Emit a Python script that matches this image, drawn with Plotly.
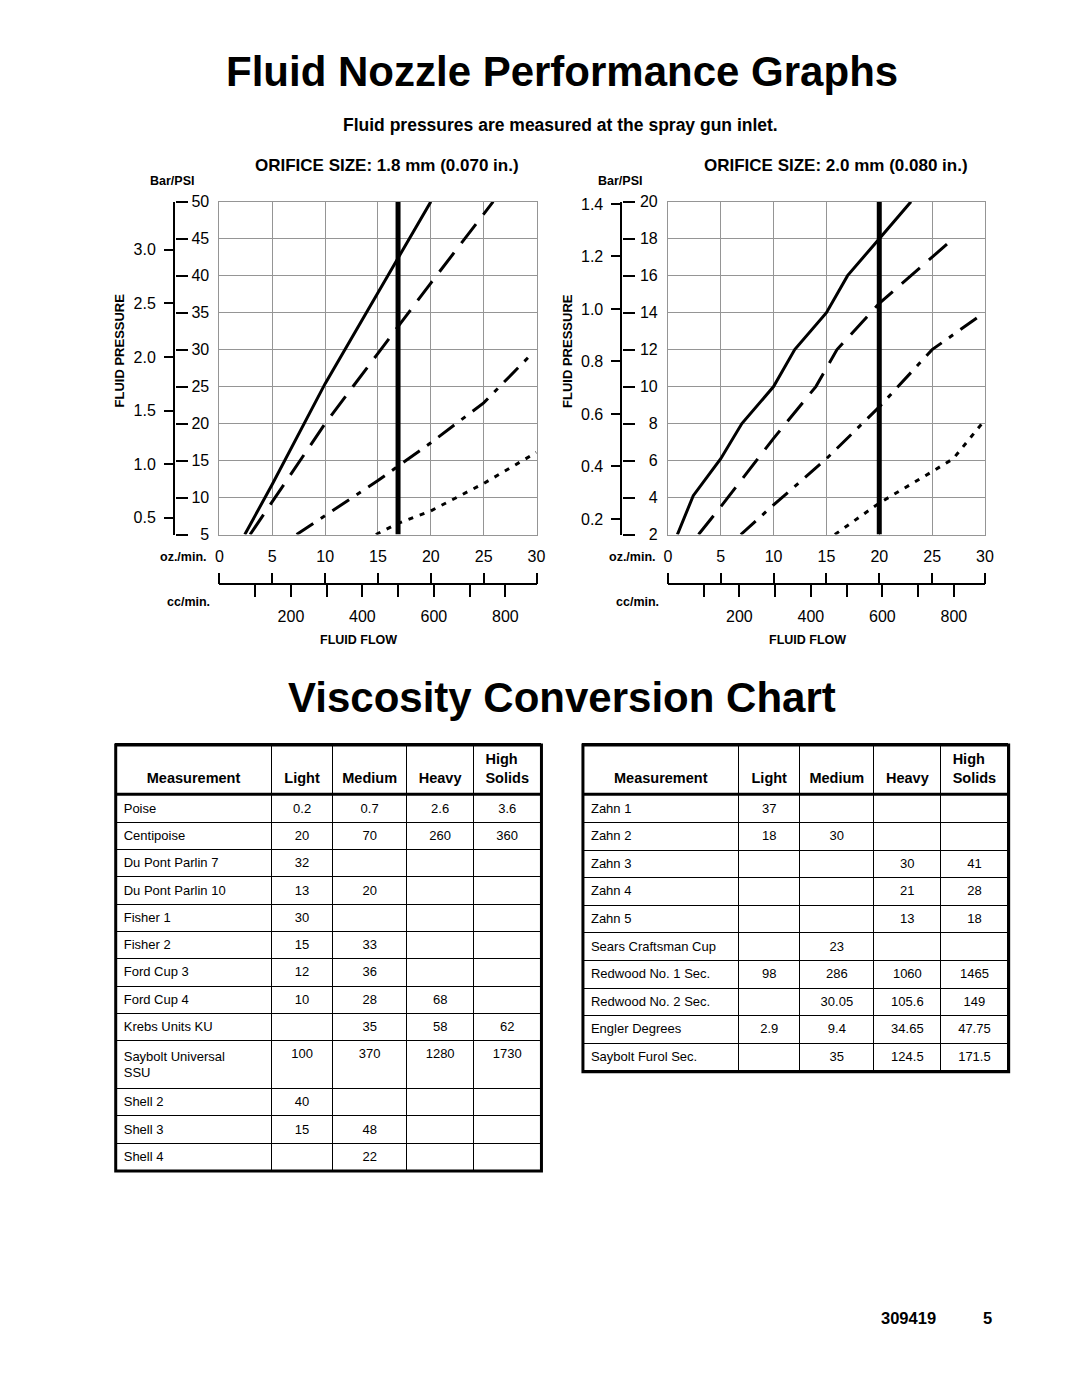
import plotly.graph_objects as go

# page is 1080x1397; the browser body keeps its 8px margin, so the figure is
# sized to fit inside it and every position below is given in page pixels
PAGE_W, PAGE_H = 1080, 1397
OFF = 8
W, H = PAGE_W - 2 * OFF, PAGE_H - 2 * OFF - 4
FONT = "Liberation Sans, Arial, Helvetica, sans-serif"
GRID = "#959595"

# ---------- nozzle graphs: x = fluid flow (oz/min), y = fluid pressure (psi)
OZ_TICKS = [0, 5, 10, 15, 20, 25, 30]
CC_TICKS = [100, 200, 300, 400, 500, 600, 700, 800]
CC_LABELS = ["", "200", "", "400", "", "600", "", "800"]
CC_PER_OZ = 29.57

# orifice 1.8 mm
A_PSI_TICKS = [5, 10, 15, 20, 25, 30, 35, 40, 45, 50]
A_BAR_TICKS = [0.5, 1.0, 1.5, 2.0, 2.5, 3.0]
A_PSI_PER_BAR = 14.5
A_SOLID_X = [2.4, 5, 10, 16.9, 20]
A_SOLID_Y = [5, 11.8, 25.4, 42.3, 50]
A_DASH_X = [2.9, 5, 10, 15, 20, 25.9]
A_DASH_Y = [5, 9.4, 20, 29.5, 39, 50]
A_DASHDOT_X = [7.3, 10, 15, 20, 25, 29.6]
A_DASHDOT_Y = [5, 7.6, 12.3, 17.4, 22.8, 29.5]
A_DOT_X = [14.8, 16.9, 20, 25, 30]
A_DOT_Y = [5, 6.5, 8.2, 11.9, 16.1]
A_MARK = 16.9

# orifice 2.0 mm
B_PSI_TICKS = [2, 4, 6, 8, 10, 12, 14, 16, 18, 20]
B_BAR_TICKS = [0.2, 0.4, 0.6, 0.8, 1.0, 1.2, 1.4]
B_PSI_PER_BAR = 14.2
B_SOLID_X = [0.9, 2.4, 5, 7, 10, 12, 15, 17, 20, 23]
B_SOLID_Y = [2, 4.1, 6.1, 8, 10, 12, 14, 16, 18, 20]
B_DASH_X = [2.9, 5, 10, 14, 16, 20, 25, 26.8]
B_DASH_Y = [2, 3.5, 7.2, 10, 12, 14.5, 17, 17.9]
B_DASHDOT_X = [6.9, 10, 15, 20, 25, 29.7]
B_DASHDOT_Y = [2, 3.6, 6.1, 8.9, 12, 13.9]
B_DOT_X = [15.8, 20, 25, 27, 30]
B_DOT_Y = [2, 3.7, 5.4, 6.1, 8.2]
B_MARK = 20

# ---------- viscosity tables
HEADERS = ["Measurement", "Light", "Medium", "Heavy", "High<br>Solids"]

L_MEAS = ["Poise", "Centipoise", "Du Pont Parlin 7", "Du Pont Parlin 10", "Fisher 1",
          "Fisher 2", "Ford Cup 3", "Ford Cup 4", "Krebs Units KU",
          "Saybolt Universal<br>SSU", "Shell 2", "Shell 3", "Shell 4"]
L_LIGHT = ["0.2", "20", "32", "13", "30", "15", "12", "10", "", "100", "40", "15", ""]
L_MEDIUM = ["0.7", "70", "", "20", "", "33", "36", "28", "35", "370", "", "48", "22"]
L_HEAVY = ["2.6", "260", "", "", "", "", "", "68", "58", "1280", "", "", ""]
L_HIGH = ["3.6", "360", "", "", "", "", "", "", "62", "1730", "", "", ""]

R_MEAS = ["Zahn 1", "Zahn 2", "Zahn 3", "Zahn 4", "Zahn 5", "Sears Craftsman Cup",
          "Redwood No. 1 Sec.", "Redwood No. 2 Sec.", "Engler Degrees", "Saybolt Furol Sec."]
R_LIGHT = ["37", "18", "", "", "", "", "98", "", "2.9", ""]
R_MEDIUM = ["", "30", "", "", "", "23", "286", "30.05", "9.4", "35"]
R_HEAVY = ["", "", "30", "21", "13", "", "1060", "105.6", "34.65", "124.5"]
R_HIGH = ["", "", "41", "28", "18", "", "1465", "149", "47.75", "171.5"]

COL_WIDTHS = [158, 62, 75, 68, 68]
HEADER_BOTTOM = 796
HEADER_H = 51.5
# a two-line 13px cell grows to about (1.3 + 1.117) * 13 + 2 * 8 px in plotly tables
TALL_ROW_H = 47.4
# rows come out roughly half a pixel taller than asked for
ROW_EXTRA = 0.5


def px(x):
    return (x - OFF) / W


def py(y):
    return 1 - (y - OFF) / H


fig = go.Figure()


def add_graph(n, left, bar_x, psi_ticks, bar_ticks, psi_per_bar, curves, mark):
    # axis ids: main x/y, free psi tick axis, free bar axis, cc axis, oz ticks on cc line
    xm, ym = 3 * n + 1, 3 * n + 1
    ypsi, ybar = ym + 1, ym + 2
    xcc, xoz = xm + 1, xm + 2

    def xn(i):
        return "x" if i == 1 else "x%d" % i

    def yn(i):
        return "y" if i == 1 else "y%d" % i

    def xl(i):
        return "xaxis" if i == 1 else "xaxis%d" % i

    def yl(i):
        return "yaxis" if i == 1 else "yaxis%d" % i

    x_dom = [px(left), px(left + 321)]
    y_dom = [py(533), py(196)]
    y_rng = [psi_ticks[0], psi_ticks[-1]]
    tick_font = dict(family=FONT, size=16, color="black")

    dashes = ["solid", "24px,12px", "20px,9px,5px,9px", "5px,7px"]
    for (cx, cy), d in zip(curves, dashes):
        fig.add_trace(go.Scatter(x=cx, y=cy, mode="lines", xaxis=xn(xm), yaxis=yn(ym),
                                 line=dict(color="black", width=3, dash=d),
                                 hoverinfo="skip", showlegend=False))
    # thick vertical reference bar
    fig.add_trace(go.Scatter(x=[mark, mark], y=y_rng, mode="lines", xaxis=xn(xm), yaxis=yn(ym),
                             line=dict(color="black", width=5), cliponaxis=False,
                             hoverinfo="skip", showlegend=False))
    # empty traces so the extra axes get drawn
    for xa, ya in [(xm, ypsi), (xm, ybar), (xcc, ym), (xoz, ym)]:
        fig.add_trace(go.Scatter(x=[None], y=[None], xaxis=xn(xa), yaxis=yn(ya),
                                 hoverinfo="skip", showlegend=False))

    fig.update_layout(**{
        xl(xm): dict(domain=x_dom, range=[0, 30], anchor=yn(ym), tickvals=OZ_TICKS,
                     showgrid=True, gridcolor=GRID, gridwidth=1, zeroline=False,
                     showline=True, mirror=True, linecolor=GRID, linewidth=1,
                     ticks="", tickfont=tick_font, ticklabelstandoff=7),
        yl(ym): dict(domain=y_dom, range=y_rng, anchor=xn(xm), tickvals=psi_ticks,
                     showgrid=True, gridcolor=GRID, gridwidth=1, zeroline=False,
                     showline=True, mirror=True, linecolor=GRID, linewidth=1,
                     ticks="", tickfont=tick_font, ticklabelstandoff=6),
        yl(ypsi): dict(overlaying=yn(ym), anchor="free", position=px(bar_x + 1), side="right",
                       range=y_rng, tickvals=psi_ticks, ticks="outside", ticklen=12,
                       tickwidth=2, tickcolor="black", showticklabels=False,
                       showgrid=False, zeroline=False, showline=False),
        yl(ybar): dict(overlaying=yn(ym), anchor="free", position=px(bar_x), side="left",
                       range=[y_rng[0] / psi_per_bar, y_rng[1] / psi_per_bar],
                       tickvals=bar_ticks, ticktext=["%.1f" % b for b in bar_ticks],
                       ticks="outside", ticklen=9, tickwidth=2, tickcolor="black",
                       showline=True, linewidth=2, linecolor="black",
                       showgrid=False, zeroline=False, tickfont=tick_font,
                       ticklabelstandoff=5),
        xl(xcc): dict(overlaying=xn(xm), anchor="free", position=py(583), side="bottom",
                      range=[0, 30 * CC_PER_OZ], tickvals=CC_TICKS, ticktext=CC_LABELS,
                      ticks="outside", ticklen=12, tickwidth=2, tickcolor="black",
                      showline=True, linewidth=2, linecolor="black",
                      showgrid=False, zeroline=False, tickfont=tick_font,
                      ticklabelstandoff=6),
        xl(xoz): dict(overlaying=xn(xm), anchor="free", position=py(583), side="top",
                      range=[0, 30], tickvals=OZ_TICKS, ticks="outside", ticklen=11,
                      tickwidth=2, tickcolor="black", showticklabels=False,
                      showgrid=False, zeroline=False, showline=False),
    })


add_graph(0, 218, 172, A_PSI_TICKS, A_BAR_TICKS, A_PSI_PER_BAR,
          [(A_SOLID_X, A_SOLID_Y), (A_DASH_X, A_DASH_Y),
           (A_DASHDOT_X, A_DASHDOT_Y), (A_DOT_X, A_DOT_Y)], A_MARK)
add_graph(1, 672, 625, B_PSI_TICKS, B_BAR_TICKS, B_PSI_PER_BAR,
          [(B_SOLID_X, B_SOLID_Y), (B_DASH_X, B_DASH_Y),
           (B_DASHDOT_X, B_DASHDOT_Y), (B_DOT_X, B_DOT_Y)], B_MARK)


# tables (header text bottom-aligned by giving every header two lines)
TABLE_TOP = HEADER_BOTTOM - HEADER_H
header_vals = ["<b>%s</b>" % h if "<br>" in h else "\u00a0<br><b>%s</b>" % h for h in HEADERS]


def add_table(x0, x1, cols, row_h):
    meas = cols[0]
    fig.add_trace(go.Table(
        domain=dict(x=[px(x0), px(x1)], y=[py(1250), py(TABLE_TOP)]),
        columnwidth=COL_WIDTHS,
        header=dict(values=header_vals, height=HEADER_H, align="center",
                    font=dict(family=FONT, size=14.5, color="black"),
                    line=dict(color="black", width=1), fill=dict(color="white")),
        cells=dict(values=cols, height=row_h - ROW_EXTRA,
                   align=["left", "center", "center", "center", "center"],
                   font=dict(family=FONT, size=13, color="black"),
                   line=dict(color="black", width=1), fill=dict(color="white")),
    ))
    n_tall = sum(1 for m in meas if "<br>" in m)
    bottom = (HEADER_BOTTOM + (len(meas) - n_tall) * row_h
              + n_tall * (TALL_ROW_H + ROW_EXTRA))
    return [
        dict(type="rect", xref="paper", yref="paper", x0=px(x0), x1=px(x1),
             y0=py(bottom), y1=py(TABLE_TOP + 1.5), line=dict(color="black", width=3)),
        dict(type="line", xref="paper", yref="paper", x0=px(x0), x1=px(x1),
             y0=py(HEADER_BOTTOM), y1=py(HEADER_BOTTOM),
             line=dict(color="black", width=3)),
    ]


shapes = add_table(113, 544, [L_MEAS, L_LIGHT, L_MEDIUM, L_HEAVY, L_HIGH], 27.8)
shapes += add_table(586, 1017, [R_MEAS, R_LIGHT, R_MEDIUM, R_HEAVY, R_HIGH], 28.1)


def note(text, x, y, size, bold=True, angle=0):
    return dict(text="<b>%s</b>" % text if bold else text, x=px(x), y=py(y),
                xref="paper", yref="paper", xanchor="center", yanchor="middle",
                showarrow=False, textangle=angle,
                font=dict(family=FONT, size=size, color="black"))


annotations = [
    note("Fluid Nozzle Performance Graphs", 565, 64.5, 42),
    note("Fluid pressures are measured at the spray gun inlet.", 563, 118.5, 17.5),
    note("ORIFICE SIZE: 1.8 mm (0.070 in.)", 388, 159, 17),
    note("ORIFICE SIZE: 2.0 mm (0.080 in.)", 842, 159, 17),
    note("Viscosity Conversion Chart", 565, 698.5, 42),
    note("309419", 916, 1326, 16.5),
    note("5", 996, 1326, 16.5),
]
for dx in [0, 454]:
    annotations += [
        note("Bar/PSI", 170 + dx, 175.5, 12.5),
        note("FLUID PRESSURE", 117 + dx, 347, 13, angle=-90),
        note("oz./min.", 182 + dx, 556, 12.5),
        note("cc/min.", 187 + dx, 601, 12.5),
        note("FLUID FLOW", 359 + dx, 640, 12.5),
    ]

fig.update_layout(width=W, height=H, margin=dict(l=0, r=0, t=0, b=0),
                  paper_bgcolor="white", plot_bgcolor="white", showlegend=False,
                  shapes=shapes, annotations=annotations)

fig.write_html("out.html", config={"displayModeBar": False})
